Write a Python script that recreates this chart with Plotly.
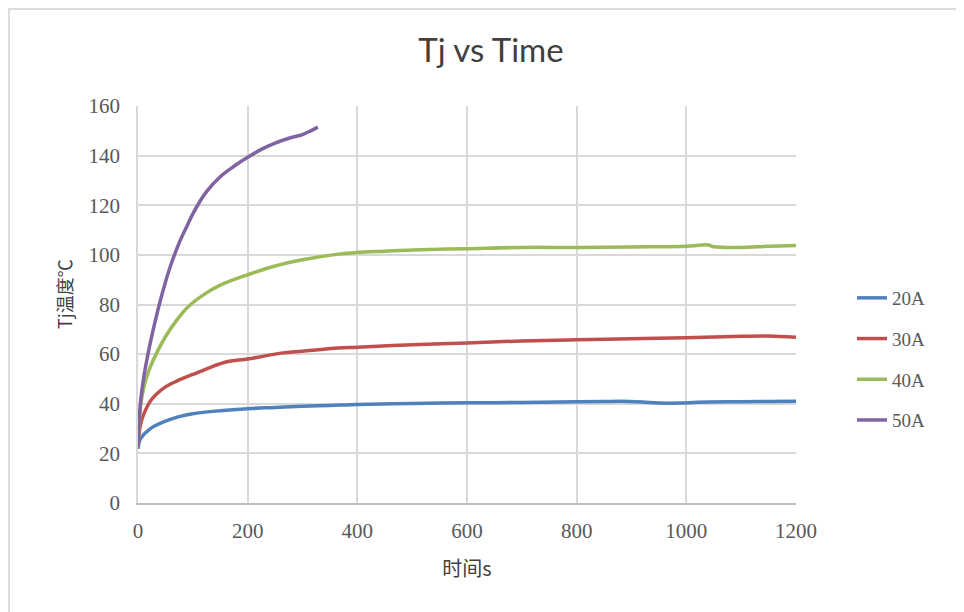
import plotly.graph_objects as go

# ---- data ----
t20 = [0, 2, 5, 10, 20, 30, 50, 75, 100, 150, 200, 250, 300, 350, 400, 500, 600, 700, 800, 850, 880, 920, 950, 990, 1020, 1100, 1150, 1200]
v20 = [22, 24.5, 26, 27.5, 29.5, 31, 33, 34.8, 36, 37.2, 38, 38.5, 39, 39.3, 39.7, 40.1, 40.4, 40.5, 40.8, 40.9, 41, 40.7, 40.3, 40.3, 40.6, 40.8, 40.9, 41]

t30 = [0, 2, 5, 10, 24, 50, 75, 100, 130, 164, 200, 261, 300, 365, 400, 500, 600, 700, 800, 900, 1000, 1100, 1150, 1200]
v30 = [22, 28, 32, 35.5, 41.5, 46.8, 49.6, 51.8, 54.5, 57, 58, 60.4, 61.2, 62.5, 62.8, 63.8, 64.5, 65.3, 65.8, 66.2, 66.6, 67.2, 67.3, 66.8]

t40 = [0, 2, 5, 10, 20, 33, 50, 70, 91, 120, 150, 200, 250, 300, 365, 400, 450, 500, 600, 700, 800, 900, 1000, 1040, 1050, 1100, 1150, 1200]
v40 = [22, 31, 39.5, 46, 53.5, 60, 67, 73.5, 79, 84, 87.8, 92, 95.5, 98, 100.3, 101, 101.5, 102, 102.5, 103, 103, 103.2, 103.5, 104, 103.3, 103, 103.5, 103.8]

t50 = [0, 2, 5, 10, 20, 30, 40, 50, 60, 75, 88, 100, 112, 125, 150, 175, 200, 225, 250, 275, 300, 315, 328]
v50 = [22, 33, 41.5, 50, 62, 72, 81, 89, 96, 104.8, 111, 116.5, 121.2, 125.5, 131.5, 135.7, 139.3, 142.5, 145, 147, 148.5, 150, 151.5]

series_names = ["20A", "30A", "40A", "50A"]
series_t = [t20, t30, t40, t50]
series_v = [v20, v30, v40, v50]
colors = ["#4F81BD", "#C0504D", "#9BBB59", "#8064A2"]

x_ticks = [0, 200, 400, 600, 800, 1000, 1200]
y_ticks = [0, 20, 40, 60, 80, 100, 120, 140, 160]

title_text = "Tj vs Time"
x_title = "时间s"
y_title = "Tj温度℃"

# ---- figure ----
fig = go.Figure()
for name, tt, vv, c in zip(series_names, series_t, series_v, colors):
    fig.add_trace(go.Scatter(x=tt, y=vv, mode="lines", name=name, legendgroup=name,
                             line=dict(color=c, width=3.5), line_shape="spline"))

OFF = 8  # page body margin of the browser
W, H = 964 - OFF, 612 - OFF
L, R, T = 138 - OFF, 168, 106 - OFF
pw = W - L - R
ph = 397
B = H - T - ph


def px_x(p):  # page pixel -> paper x
    return (p - OFF - L) / pw


def px_y(p):  # page pixel -> paper y
    return (OFF + T + ph - p) / ph


tick_font = dict(family="Liberation Serif, serif", size=21, color="#595959")

fig.update_layout(
    width=W, height=H,
    margin=dict(l=L, r=R, t=T, b=B),
    paper_bgcolor="white", plot_bgcolor="white",
    title=dict(text=title_text, x=px_x(491), xref="paper", xanchor="center",
               y=1 - (50 - OFF) / H, yref="container", yanchor="middle",
               font=dict(family="Lato, sans-serif", size=33, color="#404040")),
    xaxis=dict(range=[0, 1200], tickvals=x_ticks, showgrid=True, gridcolor="#d9d9d9",
               gridwidth=1.5, zeroline=False, showline=True, linecolor="#bfbfbf", linewidth=2,
               tickfont=tick_font, ticks="", ticklabelstandoff=8,
               title=dict(text=x_title, standoff=20,
                          font=dict(family="Noto Sans CJK SC", size=20, color="#404040"))),
    yaxis=dict(range=[0, 160], tickvals=y_ticks, showgrid=True, gridcolor="#d9d9d9",
               gridwidth=1.5, zeroline=False, showline=True, linecolor="#d9d9d9", linewidth=1.5,
               tickfont=tick_font, ticks="", ticklabelstandoff=12),
    legend=dict(x=px_x(852), xanchor="left", y=px_y(279), yanchor="top",
                font=dict(family="Liberation Serif, serif", size=19, color="#595959"),
                tracegroupgap=13, bgcolor="rgba(0,0,0,0)"),
    showlegend=True,
)

fig.add_annotation(text=y_title, x=px_x(64), y=px_y(294), xref="paper", yref="paper",
                   xanchor="center", yanchor="middle", textangle=-90, showarrow=False,
                   font=dict(family="Noto Sans CJK SC", size=18, color="#404040"))

# screenshot frame around the chart
fig.add_shape(type="line", xref="paper", yref="paper", x0=px_x(9), x1=px_x(9), y0=px_y(8), y1=px_y(612),
              line=dict(color="#dcdcdc", width=2))
fig.add_shape(type="line", xref="paper", yref="paper", x0=px_x(9), x1=px_x(964), y0=px_y(9), y1=px_y(9),
              line=dict(color="#dcdcdc", width=2))

fig.write_html("out.html")
